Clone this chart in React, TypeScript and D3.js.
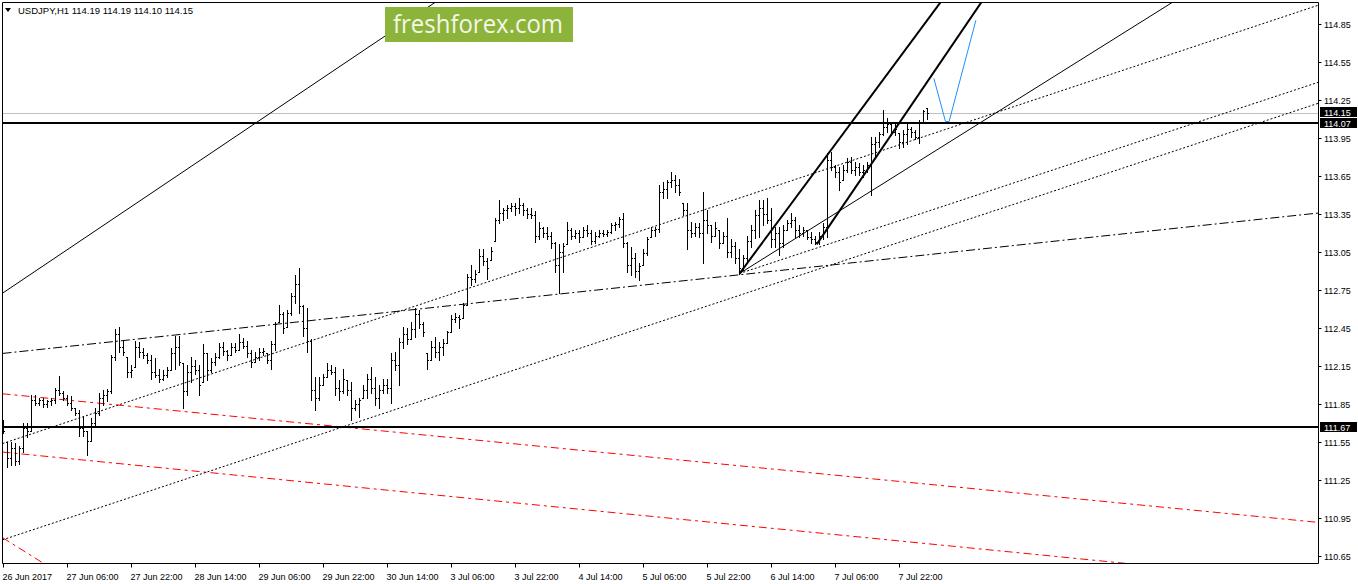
import React from 'react';
import * as d3 from 'd3';

const highs = [
111.72,111.55,111.55,111.54,111.52,111.70,111.70,111.92,111.92,111.90,
111.90,111.88,111.90,111.98,112.07,111.95,111.92,111.91,111.82,111.80,
111.75,111.64,111.74,111.82,111.94,111.96,111.97,112.24,112.44,112.46,
112.35,112.22,112.16,112.35,112.34,112.29,112.25,112.24,112.21,112.13,
112.12,112.14,112.29,112.39,112.39,112.17,112.16,112.22,112.20,112.16,
112.32,112.25,112.21,112.25,112.33,112.34,112.28,112.33,112.33,112.40,
112.37,112.35,112.28,112.26,112.29,112.29,112.25,112.35,112.50,112.63,
112.58,112.59,112.73,112.87,112.92,112.63,112.61,112.36,112.06,112.06,
112.09,112.17,112.16,112.14,112.04,112.13,112.04,112.02,111.88,111.90,
112.00,112.09,112.14,112.06,112.00,112.05,112.05,112.25,112.26,112.37,
112.46,112.45,112.50,112.61,112.59,112.50,112.25,112.35,112.38,112.34,
112.36,112.43,112.55,112.57,112.55,112.65,112.88,112.95,112.91,113.07,
113.07,113.00,113.09,113.32,113.46,113.40,113.42,113.44,113.44,113.48,
113.44,113.40,113.40,113.37,113.29,113.25,113.25,113.21,113.13,113.11,
113.12,113.29,113.24,113.22,113.22,113.25,113.26,113.22,113.21,113.22,
113.22,113.22,113.28,113.29,113.33,113.36,113.13,113.09,113.04,112.96,
113.07,113.17,113.25,113.25,113.58,113.60,113.62,113.68,113.66,113.63,
113.44,113.44,113.29,113.28,113.28,113.52,113.38,113.26,113.29,113.22,
113.21,113.32,113.15,113.13,113.07,113.03,113.18,113.26,113.38,113.46,
113.46,113.48,113.40,113.25,113.25,113.26,113.30,113.36,113.33,113.26,
113.25,113.22,113.21,113.18,113.21,113.28,113.83,113.84,113.74,113.72,
113.74,113.79,113.80,113.76,113.75,113.74,113.76,113.96,113.96,114.00,
114.17,114.11,114.07,114.07,113.99,114.01,114.07,114.04,114.01,114.09,
114.17,114.19];

const lows = [
111.62,111.35,111.37,111.37,111.38,111.47,111.59,111.64,111.84,111.84,
111.83,111.83,111.84,111.86,111.92,111.88,111.84,111.80,111.76,111.60,
111.60,111.45,111.56,111.68,111.76,111.84,111.87,111.94,112.20,112.26,
112.24,112.06,112.06,112.14,112.22,112.21,112.17,112.05,112.06,112.02,
112.04,112.06,112.12,112.13,112.16,111.82,111.92,112.02,112.09,111.92,
112.02,112.04,112.10,112.16,112.21,112.24,112.20,112.24,112.26,112.28,
112.29,112.22,112.14,112.18,112.20,112.24,112.17,112.13,112.28,112.50,
112.41,112.46,112.55,112.65,112.57,112.39,112.26,111.88,111.80,111.88,
112.00,112.06,112.09,111.92,111.88,111.94,111.92,111.72,111.80,111.75,
111.90,111.90,111.94,111.84,111.82,111.94,111.94,111.86,112.12,112.00,
112.29,112.32,112.36,112.38,112.45,112.39,112.13,112.20,112.22,112.20,
112.24,112.33,112.42,112.50,112.45,112.53,112.63,112.79,112.81,112.89,
112.95,112.84,112.99,113.14,113.28,113.30,113.32,113.37,113.34,113.36,
113.34,113.32,113.32,113.13,113.15,113.17,113.15,113.08,112.89,112.73,
112.89,113.11,113.15,113.16,113.13,113.17,113.18,113.11,113.12,113.17,
113.18,113.18,113.20,113.22,113.25,113.09,112.89,112.87,112.85,112.83,
112.95,113.03,113.17,113.18,113.21,113.48,113.48,113.56,113.52,113.50,
113.34,113.07,113.17,113.18,113.17,112.96,113.20,113.13,113.18,113.08,
113.12,113.01,113.01,112.96,112.88,112.91,112.96,113.09,113.16,113.17,
113.26,113.28,113.09,113.09,113.03,113.09,113.22,113.25,113.17,113.17,
113.18,113.15,113.12,113.11,113.11,113.15,113.17,113.70,113.64,113.54,
113.62,113.68,113.67,113.66,113.66,113.64,113.68,113.50,113.79,113.88,
113.97,114.00,113.97,113.97,113.87,113.88,113.90,113.96,113.94,113.91,
114.08,114.10];

const opens = [
111.70,111.55,111.42,111.50,111.40,111.50,111.66,111.64,111.88,111.86,
111.88,111.85,111.87,111.88,111.96,111.94,111.90,111.86,111.82,111.78,
111.66,111.64,111.56,111.70,111.78,111.90,111.92,111.95,112.22,112.40,
112.30,112.22,112.10,112.14,112.30,112.26,112.24,112.20,112.10,112.08,
112.05,112.08,112.12,112.25,112.30,112.17,111.95,112.10,112.15,112.12,
112.02,112.25,112.12,112.18,112.22,112.30,112.27,112.24,112.30,112.28,
112.34,112.31,112.25,112.18,112.22,112.26,112.25,112.20,112.32,112.50,
112.56,112.46,112.57,112.70,112.80,112.62,112.45,112.35,111.96,111.90,
112.00,112.06,112.12,112.10,111.98,111.95,112.04,111.96,111.82,111.85,
111.90,111.96,112.05,111.98,111.90,111.96,112.00,111.98,112.20,112.16,
112.34,112.40,112.36,112.44,112.56,112.48,112.25,112.20,112.30,112.26,
112.30,112.33,112.42,112.52,112.54,112.53,112.63,112.85,112.84,112.89,
113.02,112.98,112.99,113.14,113.30,113.36,113.38,113.40,113.41,113.40,
113.42,113.38,113.35,113.34,113.18,113.24,113.20,113.18,113.12,112.95,
113.05,113.11,113.22,113.18,113.20,113.17,113.22,113.20,113.14,113.18,
113.20,113.19,113.21,113.26,113.27,113.31,113.12,112.95,113.00,112.90,
112.95,113.04,113.17,113.22,113.23,113.52,113.55,113.60,113.62,113.58,
113.44,113.38,113.22,113.20,113.25,113.20,113.30,113.26,113.18,113.22,
113.12,113.18,113.05,113.10,113.00,112.92,113.00,113.14,113.22,113.34,
113.40,113.35,113.30,113.15,113.20,113.12,113.22,113.28,113.30,113.22,
113.20,113.22,113.17,113.15,113.13,113.18,113.25,113.78,113.72,113.68,
113.62,113.70,113.76,113.70,113.72,113.68,113.70,113.74,113.90,113.92,
113.98,114.04,114.06,114.00,113.99,113.92,113.98,114.02,114.00,113.96,
114.08,114.19];

const closes = [
111.64,111.42,111.50,111.40,111.50,111.66,111.64,111.88,111.86,111.88,
111.85,111.87,111.88,111.96,111.94,111.90,111.86,111.82,111.78,111.66,
111.64,111.56,111.70,111.78,111.90,111.92,111.95,112.22,112.40,112.30,
112.26,112.10,112.12,112.30,112.26,112.24,112.20,112.10,112.08,112.05,
112.08,112.12,112.25,112.30,112.18,111.95,112.10,112.15,112.12,112.00,
112.25,112.12,112.18,112.22,112.30,112.27,112.24,112.30,112.28,112.34,
112.31,112.25,112.18,112.22,112.26,112.27,112.20,112.32,112.48,112.56,
112.45,112.57,112.70,112.80,112.62,112.45,112.35,111.96,111.90,112.00,
112.06,112.12,112.10,111.98,111.95,112.05,111.96,111.82,111.85,111.88,
111.96,112.05,111.98,111.90,111.96,112.00,111.98,112.20,112.16,112.34,
112.40,112.36,112.44,112.56,112.48,112.42,112.20,112.30,112.26,112.30,
112.33,112.42,112.52,112.54,112.52,112.63,112.85,112.84,112.88,113.02,
112.98,112.92,113.06,113.30,113.36,113.38,113.40,113.41,113.40,113.42,
113.38,113.35,113.34,113.18,113.24,113.20,113.18,113.12,112.95,113.05,
113.10,113.22,113.18,113.20,113.17,113.22,113.20,113.14,113.18,113.20,
113.19,113.21,113.26,113.27,113.31,113.12,112.95,113.00,112.90,112.94,
113.04,113.15,113.22,113.23,113.52,113.55,113.60,113.62,113.58,113.52,
113.38,113.22,113.20,113.25,113.20,113.30,113.26,113.18,113.24,113.12,
113.18,113.05,113.10,113.00,112.92,113.00,113.14,113.22,113.34,113.40,
113.35,113.30,113.15,113.20,113.12,113.22,113.28,113.30,113.22,113.20,
113.22,113.17,113.15,113.13,113.18,113.25,113.78,113.72,113.68,113.60,
113.70,113.76,113.70,113.72,113.68,113.70,113.74,113.90,113.92,113.98,
114.04,114.06,114.00,114.02,113.92,113.98,114.02,114.00,113.96,114.08,
114.16,114.15];

const priceTicks = [114.85,114.55,114.25,113.95,113.65,113.35,113.05,112.75,112.45,112.15,111.85,111.55,111.25,110.95,110.65];
const timeLabels = ["26 Jun 2017","27 Jun 06:00","27 Jun 22:00","28 Jun 14:00","29 Jun 06:00","29 Jun 22:00","30 Jun 14:00","3 Jul 06:00","3 Jul 22:00","4 Jul 14:00","5 Jul 06:00","5 Jul 22:00","6 Jul 14:00","7 Jul 06:00","7 Jul 22:00"];
const timeLabelBars = [0,16,32,48,64,80,96,112,128,144,160,176,192,208,224];

const title = "USDJPY,H1  114.19 114.19 114.10 114.15";
const bidPrice = 114.15;
const levelHigh = 114.07;
const levelLow = 111.67;

// trend lines: [barIndex, price] anchor pairs
const longSolidLine = [[0, 112.73], [107.4, 115.01]];
const dashDotLine = [[0, 112.25], [184, 112.87]];
const upperDotLine = [[0, 111.54], [230, 113.96]];
const lowerDotLine = [[0, 110.78], [230, 113.19]];
const pivotDotLine = [[184, 112.88], [230, 113.36]];
const pivotThinLine = [[184, 112.88], [230, 113.79]];
const thickLineA = [[184, 112.88], [230, 114.84]];
const thickLineB = [[203.3, 113.11], [230, 114.35]];
const redUpperLine = [[0, 111.93], [230, 111.22]];
const redLowerLine = [[0, 111.47], [230, 110.75]];
const redSteepLine = [[0, 110.79], [9.6, 110.60]];
const blueBars = [232.6, 235.5, 236.4, 243.1];
const bluePrices = [114.42, 114.08, 114.08, 114.88];

const FONT = "'Liberation Sans', Arial, sans-serif";

export default function App() {
  const L = 2.5, T = 2.5, R = 1318.5, B = 563.5;
  const xs = d3.scaleLinear().domain([0, 231]).range([3.5, 927.5]);
  const ys = d3.scaleLinear().domain([110.65, 114.85]).range([556, 24]);
  const iLeft = xs.invert(L), iRight = xs.invert(R);

  const seg = (ln: number[][], i0: number, i1: number) => {
    const [[a, pa], [b, pb]] = ln;
    const f = (i: number) => pa + (pb - pa) * (i - a) / (b - a);
    return { x1: xs(i0), y1: ys(f(i0)), x2: xs(i1), y2: ys(f(i1)) };
  };

  const bars = highs.map((h, i) => {
    const px = Math.floor(xs(i));
    const yh = Math.round(ys(h));
    const yl = Math.round(ys(lows[i]));
    const yo = Math.round(ys(opens[i]));
    const yc = Math.round(ys(closes[i]));
    return (
      <g key={i}>
        <rect x={px} y={yh} width={1} height={Math.max(1, yl - yh + 1)} />
        <rect x={px - 1} y={yo} width={1} height={1} />
        <rect x={px + 1} y={yc} width={1} height={1} />
      </g>
    );
  });

  const bluePath = d3.line<number>().x((d) => xs(d)).y((_, k) => ys(bluePrices[k]))(blueBars) || '';

  const yBid = Math.round(ys(bidPrice)) + 0.5;
  const yHi = Math.round(ys(levelHigh));
  const yLo = Math.round(ys(levelLow));

  return (
    <div style={{ position: 'absolute', left: 0, top: 0 }}>
      <svg width={1358} height={584} style={{ display: 'block', background: '#fff' }} fontFamily={FONT}>
        <defs>
          <clipPath id="plotClip">
            <rect x={L} y={T} width={R - L} height={B - T} />
          </clipPath>
        </defs>
        <rect x={0} y={0} width={1358} height={584} fill="#fff" />
        <g clipPath="url(#plotClip)">
          {/* red lines */}
          <line {...seg(redUpperLine, iLeft, iRight)} stroke="#ff0000" strokeWidth={1} strokeDasharray="8,4,3,4" />
          <line {...seg(redLowerLine, iLeft, iRight)} stroke="#ff0000" strokeWidth={1} strokeDasharray="8,4,3,4" />
          <line {...seg(redSteepLine, iLeft, 12)} stroke="#ff0000" strokeWidth={1} strokeDasharray="8,4,3,4" />
          {/* bid line */}
          <line x1={L} x2={R} y1={yBid} y2={yBid} stroke="#c0c0c0" strokeWidth={1} />
          {/* trend lines */}
          <line {...seg(longSolidLine, iLeft, iRight)} stroke="#000" strokeWidth={1} />
          <line {...seg(dashDotLine, iLeft, iRight)} stroke="#000" strokeWidth={1} strokeDasharray="9,3,2,3" />
          <line {...seg(upperDotLine, iLeft, iRight)} stroke="#000" strokeWidth={1} strokeDasharray="2,2" />
          <line {...seg(lowerDotLine, iLeft, iRight)} stroke="#000" strokeWidth={1} strokeDasharray="2,2" />
          <line {...seg(pivotDotLine, 184, iRight)} stroke="#000" strokeWidth={1} strokeDasharray="2,2" />
          <line {...seg(pivotThinLine, 184, iRight)} stroke="#000" strokeWidth={1} />
          <line {...seg(thickLineA, 184, iRight)} stroke="#000" strokeWidth={2} />
          <line {...seg(thickLineB, 203.3, iRight)} stroke="#000" strokeWidth={2} />
          <path d={bluePath} fill="none" stroke="#1e90ff" strokeWidth={1} />
          {/* horizontal levels */}
          <rect x={L} y={yHi - 1} width={R - L} height={2} fill="#000" />
          <rect x={L} y={yLo - 1} width={R - L} height={2} fill="#000" />
          {/* bars */}
          <g fill="#000">{bars}</g>
        </g>
        {/* frame */}
        <line x1={L} x2={R} y1={T} y2={T} stroke="#000" />
        <line x1={L} x2={L} y1={T} y2={B} stroke="#000" />
        <line x1={R} x2={R} y1={T} y2={B} stroke="#000" />
        <line x1={L} x2={R} y1={B} y2={B} stroke="#000" />
        {/* price axis */}
        {priceTicks.map((p) => {
          const y = Math.round(ys(p)) + 0.5;
          return (
            <g key={p}>
              <line x1={R} x2={R + 3} y1={y} y2={y} stroke="#000" />
              <text x={1324} y={y + 3.5} fontSize={9} fill="#000">{p.toFixed(2)}</text>
            </g>
          );
        })}
        {/* price boxes */}
        {[{ p: bidPrice, yc: ys(bidPrice) - 1 }, { p: levelHigh, yc: ys(levelHigh) }, { p: levelLow, yc: ys(levelLow) }].map((b) => (
          <g key={b.p}>
            <rect x={1320} y={Math.round(b.yc - 5)} width={37} height={10} fill="#000" />
            <text x={1324} y={Math.round(b.yc - 5) + 8.5} fontSize={9} fill="#fff">{b.p.toFixed(2)}</text>
          </g>
        ))}
        {/* time axis */}
        {timeLabelBars.map((bi, k) => {
          const x = Math.floor(xs(bi)) + 0.5;
          return (
            <g key={bi}>
              <line x1={x} x2={x} y1={B} y2={B + 4} stroke="#000" />
              <text x={x - 1} y={580} fontSize={9} fill="#000">{timeLabels[k]}</text>
            </g>
          );
        })}
        {/* title */}
        <path d="M5,8 L11,8 L8,12 Z" fill="#000" />
        <text x={18} y={14} fontSize={9.5} fill="#000">{title}</text>
        {/* logo */}
        <rect x={385} y={7} width={188} height={35} fill="#8cb43b" />
        <text x={393} y={33} fontSize={25} fill="#f4f7e6" fontFamily="'Open Sans', 'Noto Sans', sans-serif" textLength={170} lengthAdjust="spacingAndGlyphs">freshforex.com</text>
      </svg>
    </div>
  );
}
